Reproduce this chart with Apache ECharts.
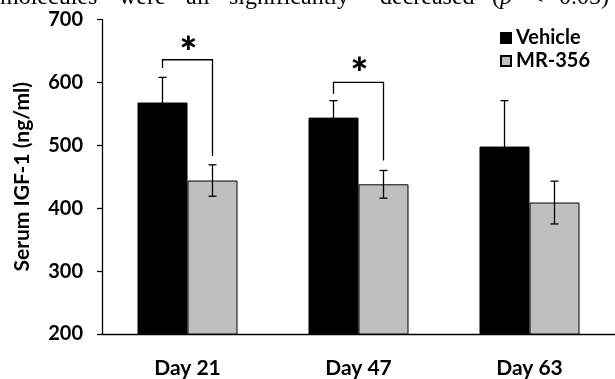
<!DOCTYPE html>
<html><head><meta charset="utf-8">
<script src="https://cdn.jsdelivr.net/npm/echarts@6/dist/echarts.min.js"></script>
<style>html,body{margin:0;padding:0;background:#fff}#c{width:615px;height:379px}</style>
</head><body><div id="c"></div>
<script>
// ---- data ----
const categories = ['Day 21', 'Day 47', 'Day 63'];
const seriesNames = ['Vehicle', 'MR-356'];
const vehicleMean = [568, 544, 498];
const vehicleErr = [40, 27, 73];
const mr356Mean = [444, 438, 409];
const mr356Err = [25, 22, 34];
const yMin = 200, yMax = 700, yStep = 100;
// significance brackets (value space)
const bracketCat = [0, 1];
const bracketTop = [636, 600];
const bracketLeftEnd = [623, 582];
const bracketRightEnd = [483, 476];
const starValue = [660, 627];
const starText = ['*', '*'];
// clipped sentence from the page above the figure
const sentenceWords = ['molecules', 'were', 'all', 'significantly', 'decreased', '(', 'p', '<', '0.05)'];
const sentenceX = [0, 119, 186, 229, 380, 492, 500, 530, 559];

// ---- styles ----
const FONT = 'Lato';
const BAR_W = 50;

const chart = echarts.init(document.getElementById('c'), null, {renderer: 'canvas'});

function errRender(offset) {
  return function (params, api) {
    const c = api.value(0), m = api.value(1), e = api.value(2);
    const top = api.coord([c, m + e]);
    const bot = api.coord([c, m - e]);
    const x = top[0] + offset;
    const st = {stroke: '#000', lineWidth: 1.3};
    return {type: 'group', children: [
      {type: 'line', shape: {x1: x, y1: top[1], x2: x, y2: bot[1]}, style: st},
      {type: 'line', shape: {x1: x - 4, y1: top[1], x2: x + 4, y2: top[1]}, style: st},
      {type: 'line', shape: {x1: x - 4, y1: bot[1], x2: x + 4, y2: bot[1]}, style: st}
    ]};
  };
}

function bracketRender(params, api) {
  const c = api.value(0);
  const p = api.coord([c, api.value(1)]);
  const l = api.coord([c, api.value(2)]);
  const r = api.coord([c, api.value(3)]);
  const s = api.coord([c, api.value(4)]);
  const xL = p[0] - BAR_W / 2, xR = p[0] + BAR_W / 2;
  return {type: 'group', children: [
    {type: 'polyline', shape: {points: [[xL, l[1]], [xL, p[1]], [xR, p[1]], [xR, r[1]]]},
     style: {stroke: '#000', lineWidth: 1.3, fill: null}},
    {type: 'text', x: p[0] + 1, y: s[1] + 9,
     style: {text: starText[params.dataIndex], font: '900 42px ' + FONT, fill: '#000',
             align: 'center', verticalAlign: 'middle'}}
  ]};
}

const graphicTexts = sentenceWords.map((w, i) => ({
  type: 'text', left: sentenceX[i], top: -14,
  style: {text: w, font: (w === 'p' ? 'italic ' : '') + '24px "Liberation Serif"', fill: '#000'}
}));

chart.setOption({
  animation: false,
  backgroundColor: '#fff',
  textStyle: {fontFamily: FONT},
  grid: {left: 102, top: 19.5, height: 316.2, width: 522, containLabel: false},
  legend: {
    data: seriesNames, orient: 'vertical', left: 495, top: 23, icon: 'rect',
    itemWidth: 10, itemHeight: 10, itemGap: 3,
    textStyle: {fontFamily: FONT, fontWeight: 'bold', fontSize: 20, color: '#000', padding: [0, 0, 0, 0]}
  },
  xAxis: {
    type: 'category', data: categories,
    axisLine: {lineStyle: {color: '#000', width: 1.3}},
    axisTick: {show: false},
    axisLabel: {fontFamily: FONT, fontWeight: 'bold', fontSize: 21, color: '#000', margin: 24}
  },
  yAxis: {
    type: 'value', min: yMin, max: yMax, interval: yStep,
    name: 'Serum IGF-1 (ng/ml)', nameLocation: 'middle', nameGap: 69, nameRotate: 90,
    nameTextStyle: {fontFamily: FONT, fontWeight: 'bold', fontSize: 21, color: '#000'},
    axisLine: {show: true, lineStyle: {color: '#000', width: 1.3}},
    axisTick: {show: true, length: 5, lineStyle: {color: '#000', width: 1.3}},
    splitLine: {show: false},
    axisLabel: {fontFamily: FONT, fontWeight: 'bold', fontSize: 20, color: '#000', margin: 19}
  },
  series: [
    {name: seriesNames[0], type: 'bar', data: vehicleMean, barWidth: BAR_W, barGap: '0%',
     itemStyle: {color: '#000', borderColor: '#000', borderWidth: 1}},
    {name: seriesNames[1], type: 'bar', data: mr356Mean, barWidth: BAR_W, barGap: '0%',
     itemStyle: {color: '#BFBFBF', borderColor: '#000', borderWidth: 1}},
    {type: 'custom', renderItem: errRender(-BAR_W / 2), z: 5,
     data: categories.map((c, i) => [i, vehicleMean[i], vehicleErr[i]])},
    {type: 'custom', renderItem: errRender(BAR_W / 2), z: 5,
     data: categories.map((c, i) => [i, mr356Mean[i], mr356Err[i]])},
    {type: 'custom', renderItem: bracketRender, z: 6,
     data: bracketCat.map((c, i) => [c, bracketTop[i], bracketLeftEnd[i], bracketRightEnd[i], starValue[i]])}
  ],
  graphic: graphicTexts
});
</script>
</body></html>
